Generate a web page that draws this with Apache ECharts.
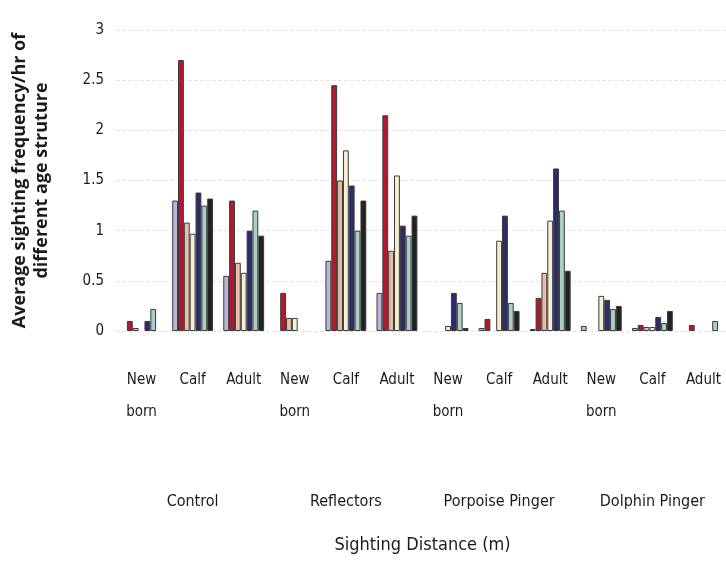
<!DOCTYPE html>
<html>
<head>
<meta charset="utf-8">
<script src="https://cdn.jsdelivr.net/npm/echarts@6/dist/echarts.min.js"></script>
<style>
  html, body { margin: 0; padding: 0; background: #fff; }
</style>
</head>
<body>
<div id="main" style="width:726px;height:580px;"></div>
<script>
// age classes repeated inside each treatment
var ageLabels = ["New\nborn", "Calf", "Adult", "New\nborn", "Calf", "Adult",
                 "New\nborn", "Calf", "Adult", "New\nborn", "Calf", "Adult"];
var treatments = ["Control", "Reflectors", "Porpoise Pinger", "Dolphin Pinger"];
var yTicks = [0, 0.5, 1, 1.5, 2, 2.5, 3];

// one array per bar colour
var s1 = [0, 1.3, 0.55, 0, 0.7, 0.38, 0, 0.03, 0.02, 0.05, 0.03, 0];
var s2 = [0.1, 2.7, 1.3, 0.38, 2.45, 2.15, 0, 0.12, 0.33, 0, 0.06, 0.06];
var s3 = [0.03, 1.08, 0.68, 0.13, 1.5, 0.8, 0, 0, 0.58, 0, 0.04, 0];
var s4 = [0, 0.97, 0.58, 0.13, 1.8, 1.55, 0.05, 0.9, 1.1, 0.35, 0.04, 0];
var s5 = [0.1, 1.38, 1.0, 0, 1.45, 1.05, 0.38, 1.15, 1.62, 0.31, 0.14, 0];
var s6 = [0.22, 1.25, 1.2, 0, 1.0, 0.95, 0.28, 0.28, 1.2, 0.22, 0.08, 0.1];
var s7 = [0, 1.32, 0.95, 0, 1.3, 1.15, 0.03, 0.2, 0.6, 0.25, 0.2, 0];

var colors = ["#b9b6d8", "#b2182f", "#e9bca8", "#f4f0d2", "#2c2b6c", "#a9d0c4", "#1f2423"];
var font = "'Liberation Sans Narrow', 'DejaVu Sans Condensed', sans-serif";

var chart = echarts.init(document.getElementById("main"));

var all = [s1, s2, s3, s4, s5, s6, s7];
var series = all.map(function (d, i) {
  return {
    name: "Series " + (i + 1),
    type: "bar",
    // zero bars would otherwise leave a border stroke on the baseline
    data: d.map(function (v) { return v === 0 ? null : v; }),
    barGap: "0%",
    barCategoryGap: "20%",
    itemStyle: { color: colors[i], borderColor: "#3a3a3a", borderWidth: 1 }
  };
});

var option = {
  animation: false,
  backgroundColor: "#fff",
  grid: { left: 116, right: -3, top: 30, bottom: 249, outerBoundsMode: "none" },
  xAxis: [
    {
      type: "category",
      data: ageLabels,
      axisLine: { show: false },
      axisTick: { show: false },
      axisLabel: {
        interval: 0,
        margin: 33,
        fontFamily: font,
        fontSize: 15,
        color: "#1a1a1a",
        lineHeight: 32,
        verticalAlign: "top"
      }
    },
    {
      type: "category",
      position: "bottom",
      offset: 155,
      data: treatments,
      axisLine: { show: false },
      axisTick: { show: false },
      axisLabel: { interval: 0, fontFamily: font, fontSize: 16, color: "#1a1a1a" },
      name: "Sighting Distance (m)",
      nameLocation: "middle",
      nameGap: 50,
      nameTextStyle: { fontFamily: font, fontSize: 18, color: "#1a1a1a" }
    }
  ],
  yAxis: {
    type: "value",
    min: yTicks[0],
    max: yTicks[yTicks.length - 1],
    interval: 0.5,
    axisLine: { show: false },
    axisTick: { show: false },
    axisLabel: { margin: 12, fontFamily: font, fontSize: 15, color: "#1a1a1a" },
    splitLine: { lineStyle: { color: "#e4e4e4", type: "dashed" } },
    name: "Average sighting frequency/hr of\ndifferent age struture",
    nameLocation: "middle",
    nameGap: 63,
    nameRotate: 90,
    nameTextStyle: {
      fontFamily: "'Open Sans', sans-serif",
      fontWeight: "bold",
      fontSize: 18,
      lineHeight: 22,
      color: "#1a1a1a"
    }
  },
  series: series
};

chart.setOption(option);
</script>
</body>
</html>
